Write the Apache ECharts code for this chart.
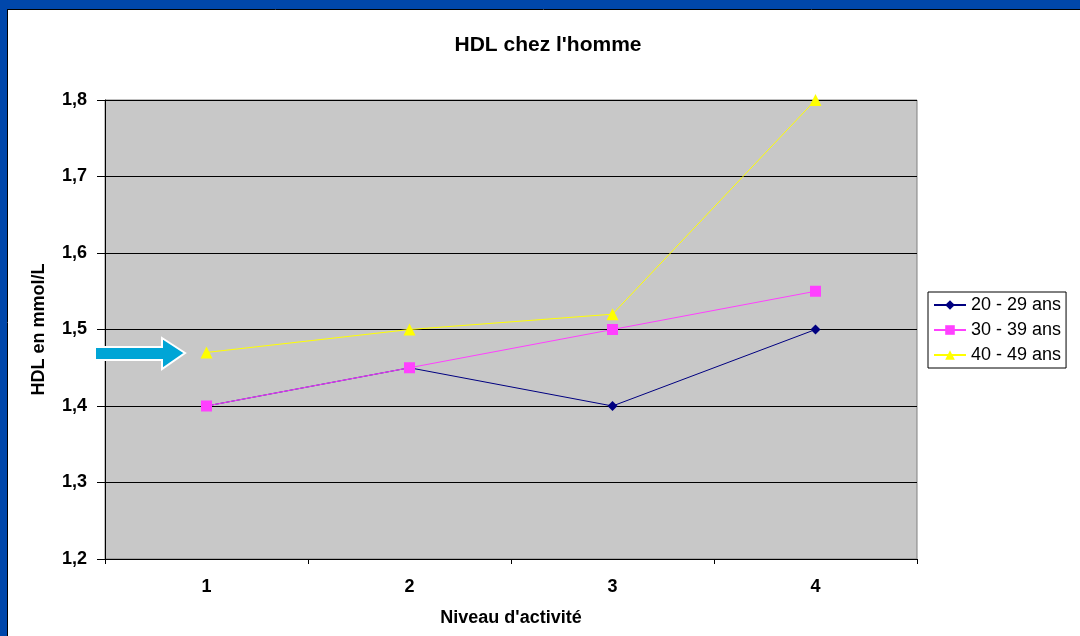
<!DOCTYPE html>
<html><head><meta charset="utf-8">
<script src="https://cdn.jsdelivr.net/npm/echarts@6/dist/echarts.min.js"></script>
<style>html,body{margin:0;padding:0;background:#fff;}#c{width:1080px;height:636px;}</style>
</head><body><div id="c"></div>
<script>
const categories = ['1', '2', '3', '4'];
const ageGroups = ['20 - 29 ans', '30 - 39 ans', '40 - 49 ans'];
const hdl20 = [1.40, 1.45, 1.40, 1.50];
const hdl30 = [1.40, 1.45, 1.50, 1.55];
const hdl40 = [1.47, 1.50, 1.52, 1.80];

const chart = echarts.init(document.getElementById('c'), null, {renderer: 'canvas'});
const font = 'Arial, "Liberation Sans", sans-serif';
chart.setOption({
  backgroundColor: '#ffffff',
  animation: false,
  title: {
    text: "HDL chez l'homme",
    left: 543, top: 30, textAlign: 'center',
    textStyle: {fontFamily: font, fontWeight: 'bold', fontSize: 21, color: '#000'}
  },
  grid: {left: 105, top: 100, right: 163, bottom: 77, show: true, backgroundColor: '#c8c8c8', borderColor: '#808080', borderWidth: 1},
  legend: {
    orient: 'vertical', left: 928, top: 292,
    data: ageGroups,
    itemWidth: 32, itemHeight: 12, itemGap: 7,
    padding: [4, 5, 4, 5],
    borderColor: '#000', borderWidth: 1,
    textStyle: {fontFamily: font, fontSize: 18, color: '#000'}
  },
  xAxis: {
    type: 'category', data: categories, boundaryGap: true,
    name: "Niveau d'activité", nameLocation: 'middle', nameGap: 50,
    nameTextStyle: {fontFamily: font, fontWeight: 'bold', fontSize: 18, color: '#000'},
    axisLine: {lineStyle: {color: '#000', width: 1}},
    axisTick: {show: true, length: 5, lineStyle: {color: '#000'}},
    axisLabel: {fontFamily: font, fontWeight: 'bold', fontSize: 18, color: '#000', margin: 19}
  },
  yAxis: {
    type: 'value', min: 1.2, max: 1.8, interval: 0.1,
    name: 'HDL en mmol/L', nameLocation: 'middle', nameGap: 57,
    nameTextStyle: {fontFamily: font, fontWeight: 'bold', fontSize: 18, color: '#000'},
    axisLine: {show: true, lineStyle: {color: '#000', width: 1}},
    axisTick: {show: true, length: 8, lineStyle: {color: '#000'}},
    axisLabel: {fontFamily: font, fontWeight: 'bold', fontSize: 18, color: '#000', margin: 18,
      formatter: v => v.toFixed(1).replace('.', ',')},
    splitLine: {show: true, lineStyle: {color: '#000', width: 1}}
  },
  series: [
    {name: ageGroups[0], type: 'line', data: hdl20, symbol: 'diamond', symbolSize: 10,
     lineStyle: {color: '#000080', width: 1}, itemStyle: {color: '#000080'}, color: '#000080'},
    {name: ageGroups[1], type: 'line', data: hdl30, symbol: 'rect', symbolSize: 11,
     lineStyle: {color: '#ff40ff', width: 1}, itemStyle: {color: '#ff40ff'}, color: '#ff40ff'},
    {name: ageGroups[2], type: 'line', data: hdl40, symbol: 'triangle', symbolSize: 12,
     lineStyle: {color: '#ffff00', width: 1}, itemStyle: {color: '#ffff00'}, color: '#ffff00'}
  ],
  graphic: [
    {type: 'rect', left: 0, top: 0, shape: {width: 1080, height: 9}, style: {fill: '#0047ab'}, z: 100},
    {type: 'rect', left: 0, top: 0, shape: {width: 7, height: 636}, style: {fill: '#0047ab'}, z: 100},
    {type: 'line', shape: {x1: 7, y1: 9.5, x2: 1080, y2: 9.5}, style: {stroke: '#000', lineWidth: 1}, z: 100},
    {type: 'line', shape: {x1: 7.5, y1: 9, x2: 7.5, y2: 636}, style: {stroke: '#000', lineWidth: 1}, z: 100},
    {type: 'polygon', shape: {points: [[95, 347], [162, 347], [162, 338], [185, 353], [162, 369], [162, 360], [95, 360]]},
     style: {fill: '#00a5d6', stroke: '#ffffff', lineWidth: 2}, z: 100}
  ]
});
</script></body></html>
